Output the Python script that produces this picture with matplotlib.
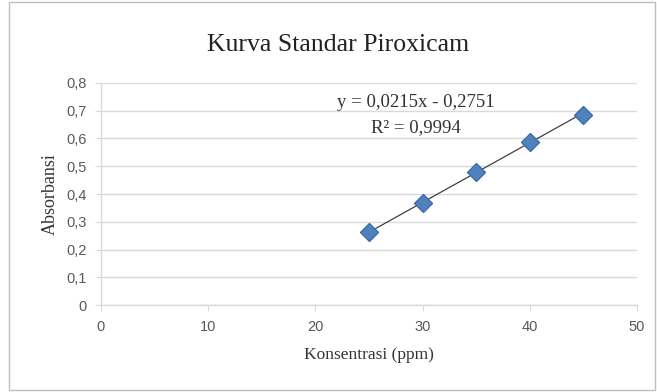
import matplotlib

matplotlib.use("Agg")
import matplotlib.pyplot as plt  # noqa: E402
import numpy as np  # noqa: E402
from matplotlib.patches import Rectangle  # noqa: E402

# Data
konsentrasi = [25, 30, 35, 40, 45]
absorbansi = [0.262, 0.368, 0.480, 0.587, 0.685]
slope = 0.0215
intercept = -0.2751
r2_text = "R² = 0,9994"
eq_text = "y = 0,0215x - 0,2751"
x_ticks = [0, 10, 20, 30, 40, 50]
y_ticks = [0, 0.1, 0.2, 0.3, 0.4, 0.5, 0.6, 0.7, 0.8]
y_ticklabels = ["0", "0,1", "0,2", "0,3", "0,4", "0,5", "0,6", "0,7", "0,8"]

serif = "Liberation Serif"
sans = "Liberation Sans"
grid_c = "#d9d9d9"
tick_c = "#595959"

fig = plt.figure(figsize=(6.57, 3.92), dpi=100)
fig.patches.append(Rectangle((0.014, 0.005), 0.983, 0.99, transform=fig.transFigure,
                             fill=False, edgecolor="#bfbfbf", linewidth=1.0))
ax = fig.add_axes([0.1537, 0.2219, 0.8159, 0.5664])

# trendline
xs = np.array([konsentrasi[0], konsentrasi[-1]])
ax.plot(xs, slope * xs + intercept, color="#404040", linewidth=0.9, zorder=2)
ax.plot(konsentrasi, absorbansi, linestyle="none", marker="D", markersize=9.5,
        color="#4f81bd", markeredgecolor="#3d6ea8", zorder=3)

ax.set_xlim(0, 50)
ax.set_ylim(0, 0.8)
ax.set_xticks(x_ticks)
ax.set_yticks(y_ticks)
ax.set_yticklabels(y_ticklabels)
ax.grid(axis="y", color=grid_c, linewidth=1.0)
ax.set_axisbelow(True)
for s in ["top", "right"]:
    ax.spines[s].set_visible(False)
for s in ["left", "bottom"]:
    ax.spines[s].set_color(grid_c)
    ax.spines[s].set_linewidth(1.0)
ax.tick_params(axis="both", colors=grid_c, labelcolor=tick_c, labelsize=10.5, length=4)
ax.tick_params(axis="x", pad=7)
ax.tick_params(axis="y", pad=6)
for lab in ax.get_xticklabels() + ax.get_yticklabels():
    lab.set_family(sans)

ax.set_xlabel("Konsentrasi (ppm)", family=serif, fontsize=12.5, color="#333333", labelpad=9)
ax.set_ylabel("Absorbansi", family=serif, fontsize=13, color="#333333", labelpad=6)

fig.text(0.515, 0.885, "Kurva Standar Piroxicam", family=serif, fontsize=18.5,
         ha="center", va="center", color="#222222")
ax.text(29.4, 0.728, eq_text, family=serif, fontsize=13.5, ha="center", va="center", color="#333333")
ax.text(29.4, 0.638, r2_text, family=serif, fontsize=13.5, ha="center", va="center", color="#333333")

fig.savefig("out.png", dpi=100)
